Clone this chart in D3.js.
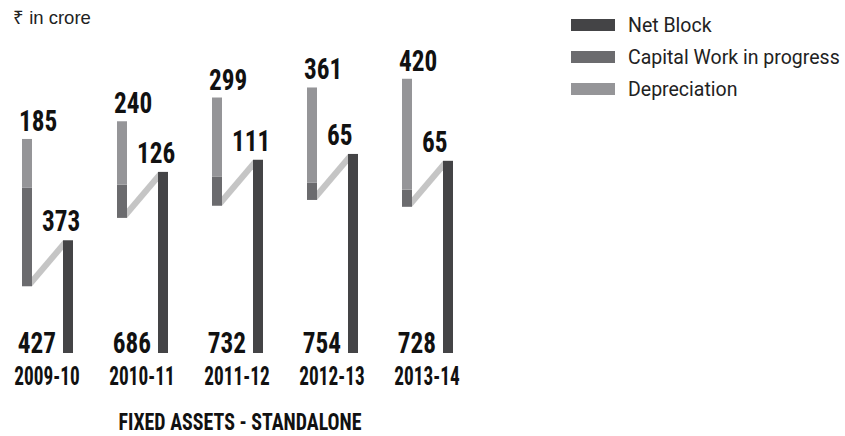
<!DOCTYPE html>
<html>
<head>
<meta charset="utf-8">
<script src="https://cdn.jsdelivr.net/npm/d3@7"></script>
<style>
  body { margin: 0; background: #fff; }
  svg { display: block; }
</style>
</head>
<body>
<svg id="chart" width="845" height="436"></svg>
<script>
// Fixed assets, standalone (₹ in crore)
const years = ["2009-10", "2010-11", "2011-12", "2012-13", "2013-14"];
const netBlock = [427, 686, 732, 754, 728];
const capitalWip = [373, 126, 111, 65, 65];
const depreciation = [185, 240, 299, 361, 420];
const seriesNames = ["Net Block", "Capital Work in progress", "Depreciation"];

const colors = {
  net: "#444446",
  wip: "#6b6b6e",
  dep: "#959598",
  link: "#c5c5c5",
  text: "#111111"
};

const condensed = "'Roboto Condensed', 'DejaVu Sans Condensed', sans-serif";

const svg = d3.select("#chart");

const x = d3.scalePoint().domain(years).range([47, 427]);
const y = d3.scaleLinear().domain([0, 1000]).range([353, 353 - 264]);
const len = v => y(0) - y(v);

const barW = 10;
const drop = 46;     // vertical fall of the connector strip
const strip = 9.5;   // vertical thickness of the connector strip

const rows = years.map((yr, i) => {
  const cx = x(yr);
  const netX = cx + 16;
  const leftX = cx - 25;
  const netTop = y(netBlock[i]);
  const leftBottom = netTop + drop;
  const wipTop = leftBottom - len(capitalWip[i]);
  const depTop = wipTop - len(depreciation[i]);
  return { yr, i, cx, netX, leftX, netTop, leftBottom, wipTop, depTop };
});

const g = svg.append("g");

// connector strips from the foot of the left column to the top of the net block
g.selectAll("polygon.link").data(rows).join("polygon")
  .attr("class", "link")
  .attr("fill", colors.link)
  .attr("points", d => [
    [d.leftX + barW, d.leftBottom],
    [d.leftX + barW, d.leftBottom - strip],
    [d.netX, d.netTop],
    [d.netX, d.netTop + strip]
  ].map(p => p.join(",")).join(" "));

// net block bars
g.selectAll("rect.net").data(rows).join("rect")
  .attr("class", "net")
  .attr("x", d => d.netX).attr("width", barW)
  .attr("y", d => d.netTop).attr("height", d => y(0) - d.netTop)
  .attr("fill", colors.net);

// capital work in progress
g.selectAll("rect.wip").data(rows).join("rect")
  .attr("class", "wip")
  .attr("x", d => d.leftX).attr("width", barW)
  .attr("y", d => d.wipTop).attr("height", d => d.leftBottom - d.wipTop)
  .attr("fill", colors.wip);

// depreciation stacked on top
g.selectAll("rect.dep").data(rows).join("rect")
  .attr("class", "dep")
  .attr("x", d => d.leftX).attr("width", barW)
  .attr("y", d => d.depTop).attr("height", d => d.wipTop - d.depTop)
  .attr("fill", colors.dep);

function boldLabel(sel, size) {
  return sel.attr("font-family", condensed)
    .attr("font-weight", 700)
    .attr("font-size", size)
    .attr("fill", colors.text);
}

const valueSqueeze = 0.87;

// value labels
boldLabel(g.selectAll("text.netv").data(rows).join("text").attr("class", "netv"), 29)
  .attr("text-anchor", "end")
  .attr("transform", d => `translate(${d.netX - 7},${y(0)}) scale(${valueSqueeze},1)`)
  .text(d => netBlock[d.i]);

boldLabel(g.selectAll("text.wipv").data(rows).join("text").attr("class", "wipv"), 29)
  .attr("transform", d => `translate(${d.netX - 21},${d.netTop - 9}) scale(${valueSqueeze},1)`)
  .text(d => capitalWip[d.i]);

boldLabel(g.selectAll("text.depv").data(rows).join("text").attr("class", "depv"), 29)
  .attr("transform", d => `translate(${d.leftX - 3},${d.depTop - 8}) scale(${valueSqueeze},1)`)
  .text(d => depreciation[d.i]);

// year labels
boldLabel(g.selectAll("text.year").data(rows).join("text").attr("class", "year"), 25)
  .attr("text-anchor", "middle")
  .attr("transform", d => `translate(${d.cx},385) scale(0.77,1)`)
  .text(d => d.yr);

// title
boldLabel(svg.append("text"), 24)
  .attr("text-anchor", "middle")
  .attr("transform", `translate(240,430) scale(0.83,1)`)
  .text("FIXED ASSETS - STANDALONE");

// unit note
svg.append("text")
  .attr("x", 13).attr("y", 24)
  .attr("font-family", "'Liberation Sans', Arial, sans-serif")
  .attr("font-size", 18.5)
  .attr("fill", "#222")
  .text("₹ in crore");

// legend
const legendColors = [colors.net, colors.wip, colors.dep];
const legend = svg.append("g").selectAll("g").data(seriesNames).join("g")
  .attr("transform", (d, i) => `translate(571,${25 + i * 32})`);
legend.append("rect")
  .attr("x", 0).attr("y", -6).attr("width", 44).attr("height", 12)
  .attr("fill", (d, i) => legendColors[i]);
legend.append("text")
  .attr("x", 57).attr("dy", "0.35em")
  .attr("font-family", "Roboto, sans-serif")
  .attr("font-size", 19.5)
  .attr("fill", "#222")
  .text(d => d);
</script>
</body>
</html>
